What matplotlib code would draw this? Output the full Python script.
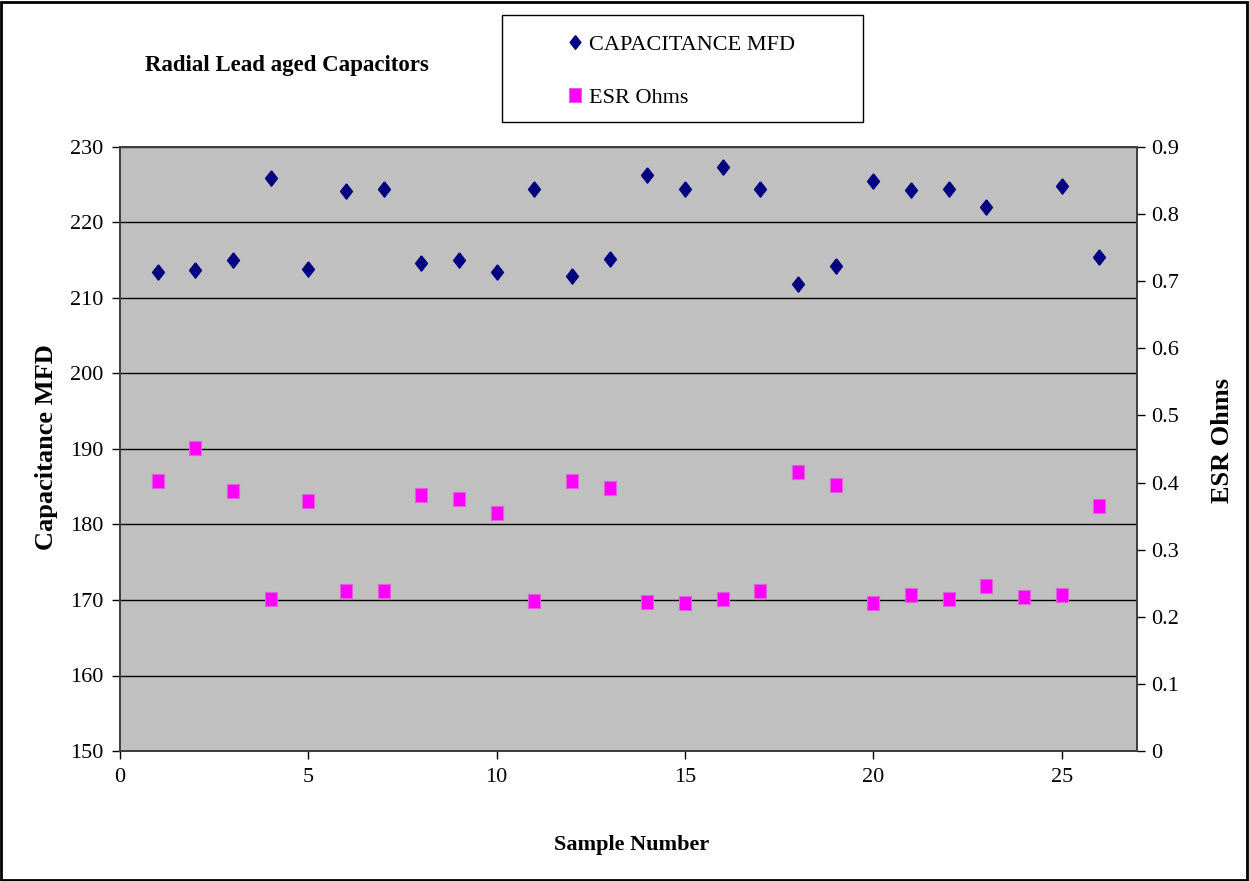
import numpy as np
import matplotlib
matplotlib.use("Agg")
import matplotlib.pyplot as plt
from matplotlib.patches import Rectangle

plt.rcParams['font.family'] = ['Liberation Serif', 'DejaVu Serif']

samples = list(range(1, 27))
capacitance = [213.4, 213.7, 215.0, 225.9, 213.8, 224.2, 224.4, 214.7, 215.0, 213.4,
               224.4, 212.9, 215.1, 226.3, 224.4, 227.4, 224.4, 211.9, 214.3, 225.5,
               224.3, 224.5, 222.1, np.nan, 224.9, 215.4]
esr = [0.403, 0.452, 0.387, 0.227, 0.372, 0.238, 0.238, 0.381, 0.375, 0.355,
       0.224, 0.403, 0.392, 0.222, 0.221, 0.226, 0.238, 0.416, 0.396, 0.220,
       0.232, 0.227, 0.246, 0.230, 0.233, 0.365]

left_ticks = [150, 160, 170, 180, 190, 200, 210, 220, 230]
right_ticks = [0, 0.1, 0.2, 0.3, 0.4, 0.5, 0.6, 0.7, 0.8, 0.9]
right_labels = ['0', '0.1', '0.2', '0.3', '0.4', '0.5', '0.6', '0.7', '0.8', '0.9']
x_ticks = [0, 5, 10, 15, 20, 25]

W, H = 1249, 881
fig = plt.figure(figsize=(W / 100, H / 100), dpi=100)
fig.patch.set_facecolor('white')

ax = fig.add_axes([120 / W, 1 - 751 / H, 1017 / W, 604 / H])
ax.set_facecolor('#C0C0C0')
ax2 = ax.twinx()

diamond = [(0, 1), (0.78, 0), (0, -1), (-0.78, 0), (0, 1)]
square = [(-0.85, -1), (0.85, -1), (0.85, 1), (-0.85, 1), (-0.85, -1)]

l1, = ax.plot(samples, capacitance, linestyle='none', marker=diamond, markersize=11,
              color='#000080', markeredgecolor='#000080', label='CAPACITANCE MFD', zorder=3)
l2, = ax2.plot(samples, esr, linestyle='none', marker=square, markersize=10.5,
               color='#FF00FF', markeredgecolor='#E060E0', markeredgewidth=0.8,
               label='ESR Ohms', zorder=3)

ax.set_xlim(0, 27)
ax.set_ylim(150, 230)
ax2.set_ylim(0, 0.9)
ax.set_xticks(x_ticks)
ax.set_yticks(left_ticks)
ax2.set_yticks(right_ticks)
ax2.set_yticklabels(right_labels)

ax.yaxis.grid(True, color='black', linewidth=1.0)
ax.set_axisbelow(True)

fs = 16
for a in (ax, ax2):
    a.tick_params(axis='both', direction='out', length=6, width=1, labelsize=fs, colors='black')
    for s in a.spines.values():
        s.set_color('#404040')
        s.set_linewidth(1.3)
ax.tick_params(axis='x', pad=6)
ax.tick_params(axis='y', pad=6)
ax2.tick_params(axis='y', pad=4)

ax.set_xlabel('Sample Number', fontsize=fs, fontweight='bold')
ax.set_ylabel('Capacitance MFD', fontsize=19, fontweight='bold')
ax2.set_ylabel('ESR Ohms', fontsize=19, fontweight='bold')
ax.xaxis.set_label_coords(512 / 1017, -(835 - 751) / 604)
ax.yaxis.set_label_coords(-(120 - 58) / 1017, (751 - 447) / 604)
ax2.yaxis.set_label_coords((1211 - 120) / 1017, (751 - 441) / 604)

fig.text(145 / W, 1 - 65 / H, 'Radial Lead aged Capacitors', fontsize=16.5,
         fontweight='bold', ha='left', va='center')

# legend box
fig.patches.append(Rectangle((502 / W, 1 - 122 / H), 361 / W, 107 / H,
                             transform=fig.transFigure, facecolor='white',
                             edgecolor='black', linewidth=1.0, zorder=1))
fig.legend(handles=[l1, l2], loc='center left',
           bbox_to_anchor=(566 / W, 1 - 71 / H), frameon=False, fontsize=fs,
           handlelength=0.8, handletextpad=0.25, labelspacing=1.45, borderpad=0,
           borderaxespad=0, markerscale=0.9)

# outer border
fig.patches.append(Rectangle((1 / W, 1 / H), (W - 3) / W, (H - 3) / H,
                             transform=fig.transFigure, facecolor='none',
                             edgecolor='black', linewidth=2.0, zorder=0))

fig.savefig('out.png', dpi=100)
